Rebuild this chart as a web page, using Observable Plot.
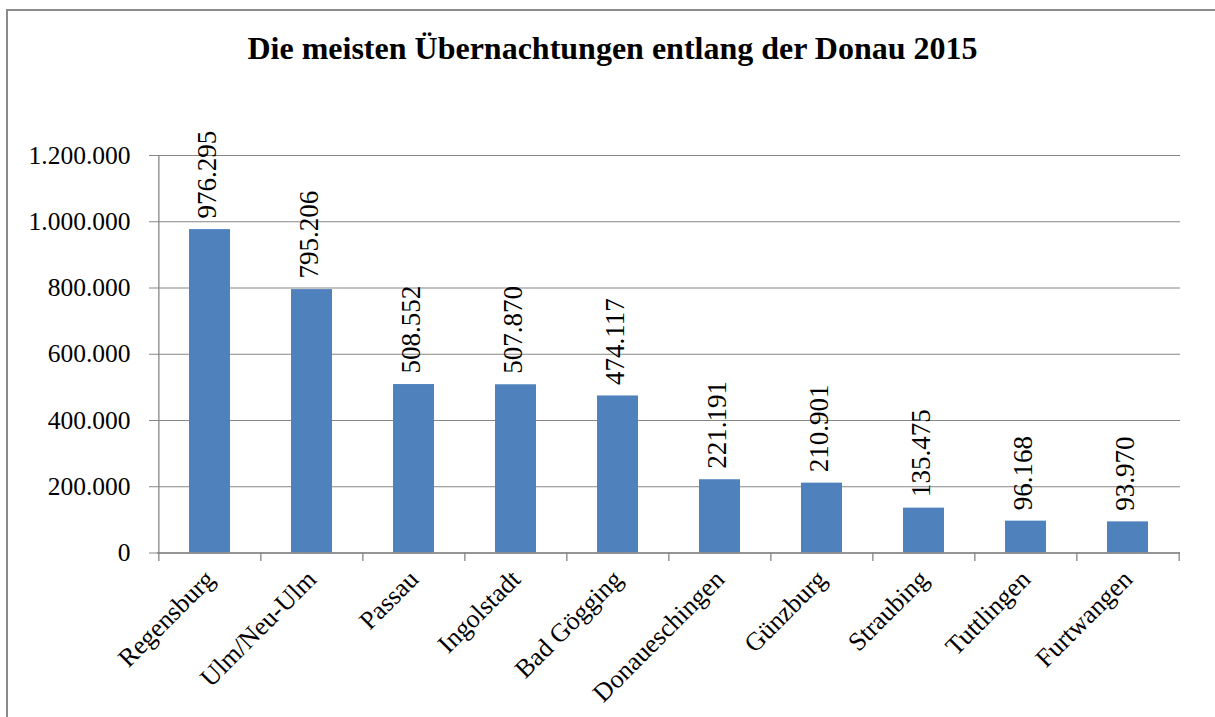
<!DOCTYPE html>
<html>
<head>
<meta charset="utf-8">
<script src="https://cdn.jsdelivr.net/npm/d3@7"></script>
<script src="https://cdn.jsdelivr.net/npm/@observablehq/plot@0.6"></script>
<style>
  html, body { margin: 0; padding: 0; background: #fff; }
  #wrap { position: relative; width: 1215px; height: 717px; overflow: hidden; background: #fff; }
  #frame { position: absolute; left: 6px; top: 9px; width: 1240px; height: 740px; border-left: 2px solid #8a8a8a; border-top: 2px solid #8a8a8a; box-sizing: border-box; z-index: 2; pointer-events: none; }
  #title { position: absolute; left: 10px; top: 28px; width: 1205px; text-align: center; font-family: "Liberation Serif", "Times New Roman", serif; font-weight: bold; font-size: 32px; line-height: 40px; color: #000; }
  #chart { position: absolute; left: 0; top: 80px; }
</style>
</head>
<body>
<div id="wrap">
  <div id="frame"></div>
  <div id="title">Die meisten Übernachtungen entlang der Donau 2015</div>
  <div id="chart"></div>
</div>
<script>
const cities = ["Regensburg", "Ulm/Neu-Ulm", "Passau", "Ingolstadt", "Bad Gögging", "Donaueschingen", "Günzburg", "Straubing", "Tuttlingen", "Furtwangen"];
const overnightStays = [976295, 795206, 508552, 507870, 474117, 221191, 210901, 135475, 96168, 93970];
const yTicks = [0, 200000, 400000, 600000, 800000, 1000000, 1200000];

const de = d3.formatLocale({decimal: ",", thousands: ".", grouping: [3], currency: ["", " €"]});
const fmt = de.format(",d");

const data = cities.map((c, i) => ({city: c, value: overnightStays[i]}));

const W = 1215, H = 637;
const mL = 157, mR = 35, mT = 75, mB = 164.5;
const bw = (W - mL - mR) / cities.length;
const font = '"Liberation Serif", "Times New Roman", serif';
const grid = "#868686";

const plot = Plot.plot({
  width: W,
  height: H,
  marginLeft: mL,
  marginRight: mR,
  marginTop: mT,
  marginBottom: mB,
  style: {fontFamily: font, fontSize: "25px", color: "#000", background: "transparent", overflow: "visible"},
  x: {domain: cities, paddingInner: 0.6, paddingOuter: 0.3, align: 0.5, label: null},
  y: {domain: [0, 1200000], label: null},
  marks: [
    Plot.gridY(yTicks, {stroke: grid, strokeOpacity: 1, strokeWidth: 1}),
    Plot.barY(data, {x: "city", y: "value", fill: "#4f81bd"}),
    Plot.ruleY([0], {stroke: grid, strokeWidth: 1.3}),
    Plot.ruleX(cities, {x: d => d, dx: -bw / 2, y1: 0, y2: -26000, stroke: grid, strokeWidth: 1.3}),
    Plot.ruleX([cities[cities.length - 1]], {x: d => d, dx: bw / 2, y1: 0, y2: -26000, stroke: grid, strokeWidth: 1.3}),
    Plot.axisY(yTicks, {tickFormat: fmt, tickSize: 8, tickPadding: 19, stroke: grid, fontSize: 25.5, fontFamily: font, fontVariant: "normal", fill: "#000"}),
    Plot.ruleX([cities[0]], {x: d => d, dx: -bw / 2, y1: 0, y2: 1200000, stroke: grid, strokeWidth: 1.3}),
    Plot.axisX({tickRotate: -45, tickSize: 0, tickPadding: 22, fontSize: 26, fontFamily: font, fill: "#000"}),
    Plot.text(data, {x: "city", y: "value", text: d => fmt(d.value), rotate: -90, textAnchor: "start", dx: -3, dy: -11, fontSize: 27, fontFamily: font, fontVariant: "normal", fill: "#000"})
  ]
});
document.getElementById("chart").appendChild(plot);
</script>
</body>
</html>
